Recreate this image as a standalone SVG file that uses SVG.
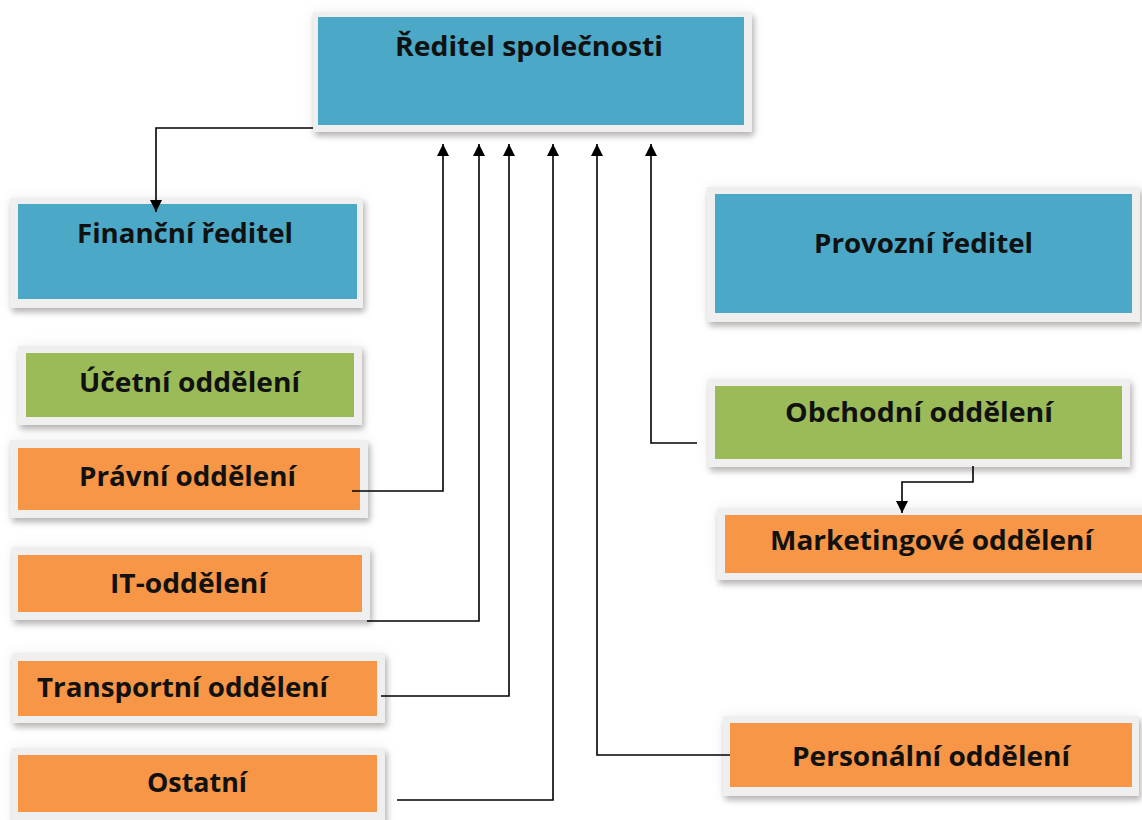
<svg xmlns="http://www.w3.org/2000/svg" width="1142" height="820" viewBox="0 0 1142 820">
<defs>
<style>
.frame{fill:#efefef;filter:url(#sh)}
.blue{fill:#4ba8c6}
.green{fill:#9bbb59}
.orange{fill:#f79646}
.lbl{font-family:"Open Sans","DejaVu Sans",sans-serif;font-weight:700;font-size:26px;fill:#111}
.conn{fill:none;stroke:#000;stroke-width:1.6}
</style>
<filter id="sh" x="-10%" y="-20%" width="125%" height="150%">
<feGaussianBlur in="SourceAlpha" stdDeviation="3" result="b1"/>
<feOffset in="b1" dx="2" dy="4" result="o1"/>
<feFlood flood-color="#6f6a66" flood-opacity="0.5"/>
<feComposite in2="o1" operator="in" result="s1"/>
<feGaussianBlur in="SourceAlpha" stdDeviation="7" result="b2"/>
<feFlood flood-color="#000" flood-opacity="0.06"/>
<feComposite in2="b2" operator="in" result="s2"/>
<feMerge><feMergeNode in="s2"/><feMergeNode in="s1"/><feMergeNode in="SourceGraphic"/></feMerge>
</filter>
<marker id="arr" viewBox="0 0 12 12" refX="12" refY="6" markerWidth="12" markerHeight="12" markerUnits="userSpaceOnUse" orient="auto">
<path d="M0,0 L12,6 L0,12 z" fill="#000"/>
</marker>
</defs>
<rect width="1142" height="820" fill="#fff"/>

<g id="reditel">
<rect class="frame" x="313" y="12" width="439" height="120"/>
<rect class="blue" x="318" y="17" width="426" height="108"/>
<text class="lbl" x="395" y="56" textLength="268" lengthAdjust="spacingAndGlyphs">Ředitel společnosti</text>
</g>
<g id="financni">
<rect class="frame" x="10" y="198" width="353" height="110"/>
<rect class="blue" x="18" y="204" width="339" height="95"/>
<text class="lbl" x="77" y="243" textLength="216" lengthAdjust="spacingAndGlyphs">Finanční ředitel</text>
</g>
<g id="ucetni">
<rect class="frame" x="18" y="346" width="344" height="79"/>
<rect class="green" x="26" y="353" width="328" height="64"/>
<text class="lbl" x="79" y="392" textLength="221" lengthAdjust="spacingAndGlyphs">Účetní oddělení</text>
</g>
<g id="pravni">
<rect class="frame" x="10" y="440" width="358" height="78"/>
<rect class="orange" x="18" y="448" width="342" height="62"/>
<text class="lbl" x="79" y="486" textLength="217" lengthAdjust="spacingAndGlyphs">Právní oddělení</text>
</g>
<g id="it">
<rect class="frame" x="12" y="547" width="358" height="73"/>
<rect class="orange" x="18" y="555" width="344" height="57"/>
<text class="lbl" x="110" y="593" textLength="157" lengthAdjust="spacingAndGlyphs">IT-oddělení</text>
</g>
<g id="transportni">
<rect class="frame" x="12" y="653" width="373" height="70"/>
<rect class="orange" x="18" y="661" width="359" height="55"/>
<text class="lbl" x="37" y="697" textLength="291" lengthAdjust="spacingAndGlyphs">Transportní oddělení</text>
</g>
<g id="ostatni">
<rect class="frame" x="12" y="748" width="373" height="80"/>
<rect class="orange" x="18" y="755" width="359" height="57"/>
<text class="lbl" x="147" y="792" textLength="100" lengthAdjust="spacingAndGlyphs">Ostatní</text>
</g>
<g id="provozni">
<rect class="frame" x="707" y="187" width="433" height="135"/>
<rect class="blue" x="715" y="194" width="417" height="119"/>
<text class="lbl" x="814" y="253" textLength="219" lengthAdjust="spacingAndGlyphs">Provozní ředitel</text>
</g>
<g id="obchodni">
<rect class="frame" x="708" y="379" width="422" height="88"/>
<rect class="green" x="715" y="386" width="407" height="73"/>
<text class="lbl" x="785" y="422" textLength="268" lengthAdjust="spacingAndGlyphs">Obchodní oddělení</text>
</g>
<g id="marketing">
<rect class="frame" x="717" y="508" width="440" height="72"/>
<rect class="orange" x="725" y="515" width="417" height="58"/>
<text class="lbl" x="770" y="550" textLength="323" lengthAdjust="spacingAndGlyphs">Marketingové oddělení</text>
</g>
<g id="personalni">
<rect class="frame" x="723" y="716" width="416" height="80"/>
<rect class="orange" x="730" y="723" width="402" height="64"/>
<text class="lbl" x="792" y="766" textLength="278" lengthAdjust="spacingAndGlyphs">Personální oddělení</text>
</g>

<g id="connectors">
<path class="conn" d="M313,128 H156 V212" marker-end="url(#arr)"/>
<path class="conn" d="M352,491 H443 V144" marker-end="url(#arr)"/>
<path class="conn" d="M367,621 H479 V144" marker-end="url(#arr)"/>
<path class="conn" d="M381,696 H509 V144" marker-end="url(#arr)"/>
<path class="conn" d="M397,800 H553 V144" marker-end="url(#arr)"/>
<path class="conn" d="M730,755 H597 V144" marker-end="url(#arr)"/>
<path class="conn" d="M697,443 H651 V144" marker-end="url(#arr)"/>
<path class="conn" d="M973,466 V482 H902 V513" marker-end="url(#arr)"/>
</g>
</svg>
